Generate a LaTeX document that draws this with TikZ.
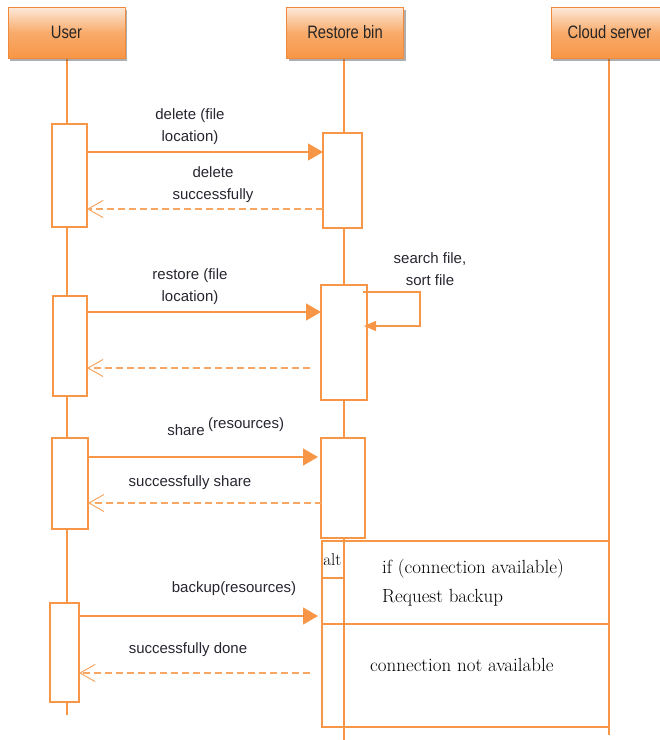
\documentclass[tikz,border=0pt]{standalone}
\usepackage{fontspec}
\newfontfamily\sansf{Liberation Sans}
\newfontfamily\headf[FakeStretch=0.82]{Liberation Sans}
\usetikzlibrary{arrows.meta,shadows,calc}
\definecolor{orng}{HTML}{F79646}
\definecolor{orngdk}{HTML}{F08A3A}
\definecolor{peach}{HTML}{FDE9DA}
\definecolor{txt}{HTML}{262630}
\tikzset{
  head/.style={draw=orngdk, line width=1pt, top color=peach, bottom color=orng,
    middle color=orng!75!peach,
    minimum width=117pt, minimum height=51pt, inner sep=0pt,
    drop shadow={shadow xshift=2pt, shadow yshift=-3pt, opacity=0.45, fill=black!70},
    font=\headf\fontsize{18}{20}\selectfont, text=black!85},
  life/.style={draw=orng, line width=1.1pt},
  act/.style={draw=orng, fill=white, line width=1.3pt, inner sep=0pt},
  msg/.style={draw=orng, line width=1.3pt, -{Triangle[length=15pt,width=17pt]}},
  ret/.style={draw=orng!85, line width=1.1pt, dash pattern=on 7pt off 4pt,
    -{Straight Barb[length=15pt,width=17pt,line width=1pt]}},
  selfmsg/.style={draw=orng, line width=1.1pt, -{Triangle[length=12pt,width=10pt]}},
  lbl/.style={font=\sansf\fontsize{15}{22}\selectfont, text=txt, align=center, inner sep=0pt},
  slbl/.style={font=\fontsize{19}{29}\selectfont, text=black, align=left, inner sep=0pt, anchor=west},
  frm/.style={draw=orng, line width=1.3pt},
}
\begin{document}
\begin{tikzpicture}[x=1pt,y=-1pt]
\useasboundingbox (0,0) rectangle (660,740);
% lifelines
\coordinate (uTop) at (67,58);  \coordinate (uBot) at (67,715);
\coordinate (rTop) at (344,58); \coordinate (rBot) at (344,740);
\coordinate (cTop) at (609,58); \coordinate (cBot) at (609,735);
\draw[life] (uTop) -- (uBot);
\draw[life] (rTop) -- (rBot);
\draw[life] (cTop) -- (cBot);
% headers
\node[head] (user) at (66.5,32.5) {User};
\node[head] (rbin) at (345,32.5) {Restore bin};
\node[head] (cloud) at (609.5,32.5) {Cloud server};
% activations
\node[act, minimum width=35pt, minimum height=103pt] (ua1) at (69.5,175.5) {};
\node[act, minimum width=34pt, minimum height=100pt] (ua2) at (70,346) {};
\node[act, minimum width=36pt, minimum height=91pt] (ua3) at (70,483.5) {};
\node[act, minimum width=29pt, minimum height=99pt] (ua4) at (64.5,652.5) {};
\node[act, minimum width=39pt, minimum height=95pt] (ra1) at (342.5,180.5) {};
\node[act, minimum width=46pt, minimum height=115pt] (ra2) at (344,342.5) {};
\node[act, minimum width=44pt, minimum height=100pt] (ra3) at (343,488) {};
% alt frame
\node[frm, minimum width=287pt, minimum height=186pt, inner sep=0pt] (alt) at (465.5,634) {};
\node[frm, minimum width=22pt, minimum height=37pt, inner sep=0pt] (altlbl) at (333,559.5) {};
\node[font=\fontsize{17}{20}\selectfont, inner sep=0pt] (alttxt) at (332.3,559.5) {alt};
\coordinate (divL) at (322,624); \coordinate (divR) at (609,624);
\draw[frm, line width=1.1pt] (divL) -- (divR);
\draw[life] (altlbl.south -| rTop) -- (rBot);
\node[slbl] (cond1) at (382,569) {if (connection available)};
\node[slbl] (cond1b) at (382,598) {Request backup};
\node[slbl] (cond2) at (370,665) {connection not available};
% message endpoints
\coordinate (m1a) at (87,152);  \coordinate (m1b) at (323,152);
\coordinate (r1a) at (323,209); \coordinate (r1b) at (87,209);
\coordinate (m2a) at (87,312);  \coordinate (m2b) at (321,312);
\coordinate (r2a) at (310,368); \coordinate (r2b) at (87,368);
\coordinate (m3a) at (88,457);  \coordinate (m3b) at (318,457);
\coordinate (r3a) at (322,503); \coordinate (r3b) at (88,503);
\coordinate (m4a) at (79,616);  \coordinate (m4b) at (318,616);
\coordinate (r4a) at (310,673); \coordinate (r4b) at (79,673);
\coordinate (s1) at (363,292); \coordinate (s2) at (420,292);
\coordinate (s3) at (420,326); \coordinate (s4) at (364,326);
\draw[msg] (m1a) -- (m1b);
\draw[ret] (r1a) -- (r1b);
\draw[msg] (m2a) -- (m2b);
\draw[ret] (r2a) -- (r2b);
\draw[msg] (m3a) -- (m3b);
\draw[ret] (r3a) -- (r3b);
\draw[msg] (m4a) -- (m4b);
\draw[ret] (r4a) -- (r4b);
\draw[selfmsg] (s1) -- (s2) -- (s3) -- (s4);
% labels
\node[lbl] (l1) at (190,127) {delete (file\\location)};
\node[lbl] (l2) at (213,185) {delete\\successfully};
\node[lbl] (l3) at (190,287) {restore (file\\location)};
\node[lbl] (l4) at (430,269) {search file,\\sort file};
\node[lbl, anchor=east] (l5a) at (205,430) {share};
\node[lbl, anchor=west] (l5b) at (208,425) {(resources)};
\node[lbl] (l6) at (190,483) {successfully share};
\node[lbl] (l7) at (234,589) {backup(resources)};
\node[lbl] (l8) at (188,650) {successfully done};
\end{tikzpicture}
\end{document}
